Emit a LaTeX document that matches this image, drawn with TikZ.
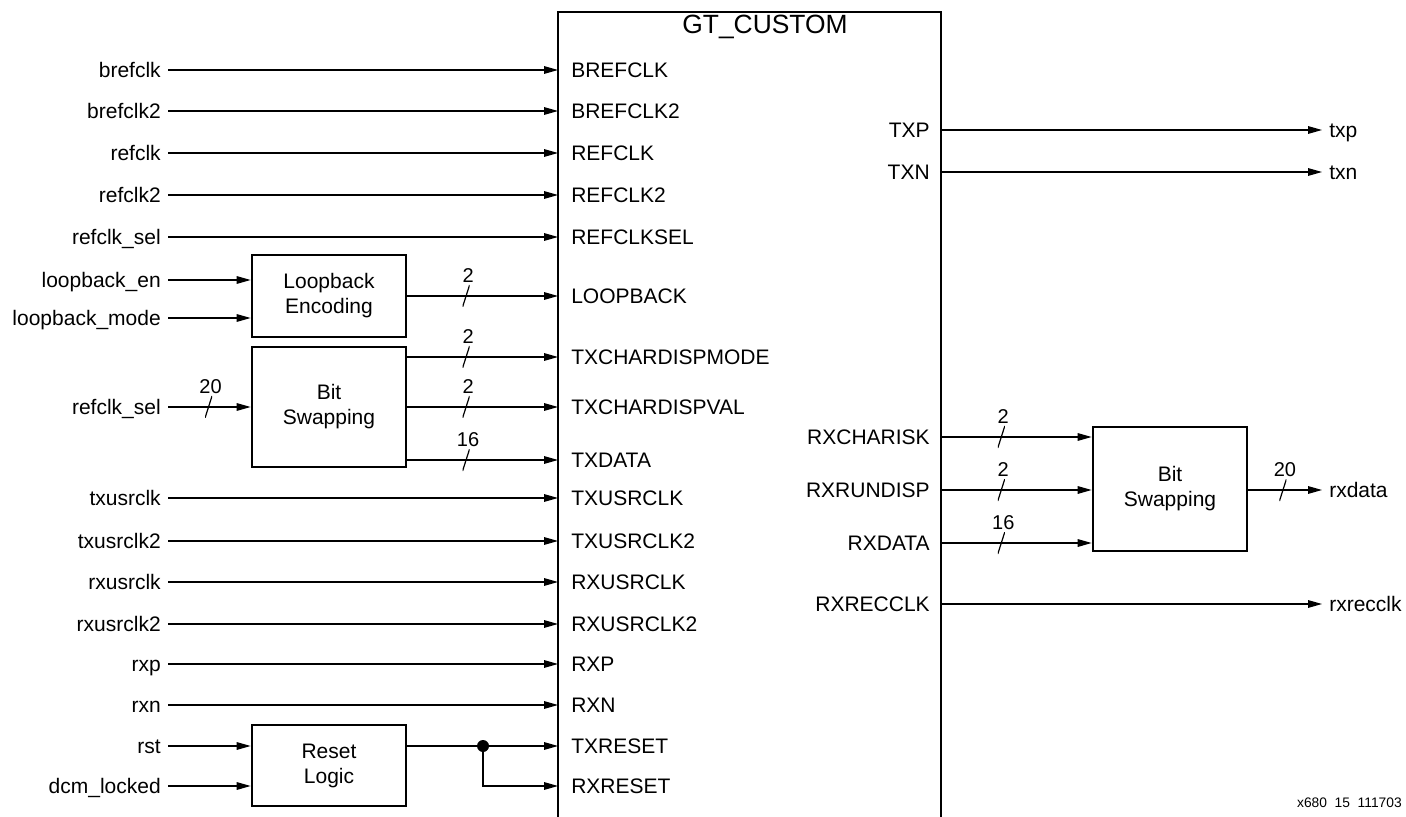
\documentclass[tikz,border=0pt]{standalone}
\usepackage{fontspec}
\setmainfont{Liberation Sans}
\usepackage{tikz}
\usetikzlibrary{arrows.meta, positioning, calc}

\begin{document}
\begin{tikzpicture}[
  x=0.5pt, y=-0.5pt,
  txt/.style  = {font=\fontsize{10.5}{12}\selectfont, text height=7.5pt,
                 text depth=0pt},
  sig/.style  = {txt, anchor=east},
  pin/.style  = {txt, anchor=west},
  rpin/.style = {txt, anchor=east},
  outsig/.style = {txt, anchor=west},
  blk/.style  = {draw, line width=1.3pt, minimum width=77pt, align=center,
                 font=\fontsize{10.5}{12.5}\selectfont},
  busmark/.style = {inner sep=0pt, minimum width=3.5pt, minimum height=11pt,
                 path picture={\draw[-, line width=0.6pt]
                   (path picture bounding box.south west) --
                   (path picture bounding box.north east);},
                 label={[font=\fontsize{10}{12}\selectfont, inner sep=0.5pt,
                         xshift=1pt]above:#1}},
  dot/.style  = {circle, fill, inner sep=0pt, minimum size=6pt},
  line width=0.6pt, >={Triangle[length=7pt, width=3.8pt]}
]
  \useasboundingbox (0,0) rectangle (1406,817);

  % main block, open at the bottom
  \draw[line width=1.3pt] (558,830) -- (558,12) -- (941,12) -- (941,830);
  \coordinate (gtw) at (558,12);
  \coordinate (gte) at (941,12);
  \node[font=\fontsize{13.2}{15}\selectfont] (gttitle) at (765,27) {GT\_CUSTOM};

  % inputs
  \node[sig] (brefclk)   at (168,70)  {brefclk};
  \node[sig] (brefclk2)  at (168,111) {brefclk2};
  \node[sig] (refclk)    at (168,153) {refclk};
  \node[sig] (refclk2)   at (168,195) {refclk2};
  \node[sig] (refclksel) at (168,237) {refclk\_sel};
  \node[sig] (lben)      at (168,280) {loopback\_en};
  \node[sig] (lbmode)    at (168,318) {loopback\_mode};
  \node[sig] (refclkselb) at (168,407) {refclk\_sel};
  \node[sig] (txusrclk)  at (168,498) {txusrclk};
  \node[sig] (txusrclk2) at (168,541) {txusrclk2};
  \node[sig] (rxusrclk)  at (168,582) {rxusrclk};
  \node[sig] (rxusrclk2) at (168,624) {rxusrclk2};
  \node[sig] (rxp)       at (168,664) {rxp};
  \node[sig] (rxn)       at (168,705) {rxn};
  \node[sig] (rst)       at (168,746) {rst};
  \node[sig] (dcmlocked) at (168,786) {dcm\_locked};

  % side blocks
  \node[blk, minimum height=41pt] (lbenc)  at (329,296)
      {Loopback\\Encoding};
  \node[blk, minimum height=60pt] (bswap)  at (329,407)
      {Bit\\Swapping};
  \node[blk, minimum height=40.5pt] (rstlogic) at (329,765.5)
      {Reset\\Logic};
  \node[blk, minimum height=62pt] (rxswap) at (1170,489)
      {Bit\\Swapping};

  % pins, left side
  \node[pin] (BREFCLK)   at (564,70)  {BREFCLK};
  \node[pin] (BREFCLK2)  at (564,111) {BREFCLK2};
  \node[pin] (REFCLK)    at (564,153) {REFCLK};
  \node[pin] (REFCLK2)   at (564,195) {REFCLK2};
  \node[pin] (REFCLKSEL) at (564,237) {REFCLKSEL};
  \node[pin] (LOOPBACK)  at (564,296) {LOOPBACK};
  \node[pin] (TXCDMODE)  at (564,357) {TXCHARDISPMODE};
  \node[pin] (TXCDVAL)   at (564,407) {TXCHARDISPVAL};
  \node[pin] (TXDATA)    at (564,460) {TXDATA};
  \node[pin] (TXUSRCLK)  at (564,498) {TXUSRCLK};
  \node[pin] (TXUSRCLK2) at (564,541) {TXUSRCLK2};
  \node[pin] (RXUSRCLK)  at (564,582) {RXUSRCLK};
  \node[pin] (RXUSRCLK2) at (564,624) {RXUSRCLK2};
  \node[pin] (RXP)       at (564,664) {RXP};
  \node[pin] (RXN)       at (564,705) {RXN};
  \node[pin] (TXRESET)   at (564,746) {TXRESET};
  \node[pin] (RXRESET)   at (564,786) {RXRESET};

  % pins, right side
  \node[rpin] (TXP)       at (937,130) {TXP};
  \node[rpin] (TXN)       at (937,172) {TXN};
  \node[rpin] (RXCHARISK) at (937,437) {RXCHARISK};
  \node[rpin] (RXRUNDISP) at (937,490) {RXRUNDISP};
  \node[rpin] (RXDATA)    at (937,543) {RXDATA};
  \node[rpin] (RXRECCLK)  at (937,604) {RXRECCLK};

  % outputs
  \node[outsig] (txp)      at (1322,130) {txp};
  \node[outsig] (txn)      at (1322,172) {txn};
  \node[outsig] (rxdata)   at (1322,490) {rxdata};
  \node[outsig] (rxrecclk) at (1322,604) {rxrecclk};

  \node[anchor=east, font=\fontsize{6.9}{8}\selectfont] (figid) at (1409,803)
      {x680\ \ 15\ \ 111703};

  % straight inputs
  \draw[->] (brefclk)   -- (gtw |- BREFCLK);
  \draw[->] (brefclk2)  -- (gtw |- BREFCLK2);
  \draw[->] (refclk)    -- (gtw |- REFCLK);
  \draw[->] (refclk2)   -- (gtw |- REFCLK2);
  \draw[->] (refclksel) -- (gtw |- REFCLKSEL);
  \draw[->] (txusrclk)  -- (gtw |- TXUSRCLK);
  \draw[->] (txusrclk2) -- (gtw |- TXUSRCLK2);
  \draw[->] (rxusrclk)  -- (gtw |- RXUSRCLK);
  \draw[->] (rxusrclk2) -- (gtw |- RXUSRCLK2);
  \draw[->] (rxp)       -- (gtw |- RXP);
  \draw[->] (rxn)       -- (gtw |- RXN);

  % loopback encoding
  \draw[->] (lben)   -- (lbenc.west |- lben);
  \draw[->] (lbmode) -- (lbenc.west |- lbmode);
  \draw[->] (lbenc.east |- LOOPBACK) -- node[busmark=2, pos=0.39] {}
            (gtw |- LOOPBACK);

  % bit swapping, tx
  \draw[->] (refclkselb) -- node[busmark=20, pos=0.49] {} (bswap.west |- refclkselb);
  \draw[->] (bswap.east |- TXCDMODE) -- node[busmark=2, pos=0.39] {} (gtw |- TXCDMODE);
  \draw[->] (bswap.east |- TXCDVAL)  -- node[busmark=2, pos=0.39] {} (gtw |- TXCDVAL);
  \draw[->] (bswap.east |- TXDATA)   -- node[busmark=16, pos=0.39] {} (gtw |- TXDATA);

  % reset logic
  \draw[->] (rst)       -- (rstlogic.west |- rst);
  \draw[->] (dcmlocked) -- (rstlogic.west |- dcmlocked);
  \node[dot] (jn) at (483,746) {};
  \draw[->] (rstlogic.east |- TXRESET) -- (gtw |- TXRESET);
  \draw[->] (jn.center) |- (gtw |- RXRESET);

  % outputs
  \draw[->] (gte |- TXP) -- (txp);
  \draw[->] (gte |- TXN) -- (txn);
  \draw[->] (gte |- RXCHARISK) -- node[busmark=2, pos=0.4] {} (rxswap.west |- RXCHARISK);
  \draw[->] (gte |- RXRUNDISP) -- node[busmark=2, pos=0.4] {} (rxswap.west |- RXRUNDISP);
  \draw[->] (gte |- RXDATA)    -- node[busmark=16, pos=0.4] {} (rxswap.west |- RXDATA);
  \draw[->] (rxswap.east |- rxdata) -- node[busmark=20, pos=0.47] {} (rxdata);
  \draw[->] (gte |- RXRECCLK) -- (rxrecclk);
\end{tikzpicture}
\end{document}
